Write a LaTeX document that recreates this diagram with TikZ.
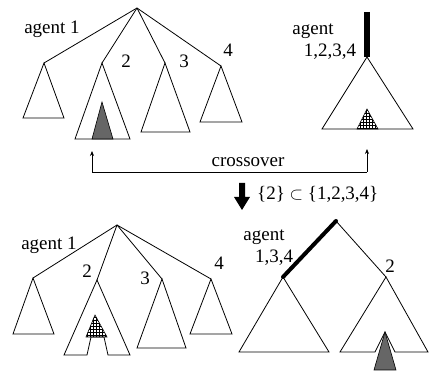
\documentclass[tikz,border=0pt]{standalone}
\usepackage{amsmath,amssymb}
\usepackage{xcolor}
\usepackage{fontspec}
\setmainfont{Liberation Serif}
\usepackage{tikz}
\usetikzlibrary{patterns,arrows.meta}

\tikzset{
  branch/.style={black,line width=.8pt},
  subtree/.style={black,line width=.8pt,line join=miter},
  grayfill/.style={draw=black,line width=.6pt,fill=black!60},
  hatchfill/.style={draw=black,line width=.6pt,pattern=grid},
  lbl/.style={anchor=base,inner sep=0pt,font=\fontsize{19}{21}\selectfont},
  link/.style={black,line width=.7pt,-{Stealth[length=5pt,width=4pt]}}
}

\begin{document}
\begin{tikzpicture}[x=1pt,y=-1pt]
    \useasboundingbox (0,0) rectangle (429,371);

    % parent 1 (top left)
    \coordinate (r1) at (137,8);
    \coordinate (a1) at (44,63);
    \coordinate (a2) at (102,63);
    \coordinate (a3) at (165,63);
    \coordinate (a4) at (221,66);
    \foreach \k in {a1,a2,a3,a4} \draw[branch] (r1) -- (\k);
    \draw[subtree] (a1) -- (23,118) -- (64,118) -- cycle;
    \draw[subtree] (a2) -- (75,139) -- (130,139) -- cycle;
    \draw[subtree] (a3) -- (141,132) -- (190,132) -- cycle;
    \draw[subtree] (a4) -- (200,122) -- (242,122) -- cycle;
    \draw[grayfill] (102,102) -- (92,139) -- (113,139) -- cycle;
    \node[lbl] at (52,34) {agent 1};
    \node[lbl] at (126,68) {2};
    \node[lbl] at (184,68) {3};
    \node[lbl] at (228,57) {4};

    % parent 2 (top right)
    \coordinate (r2) at (367,12);
    \coordinate (b0) at (367,57);
    \draw[black,line width=6pt] (r2) -- (b0);
    \draw[subtree] (b0) -- (322,129) -- (413,129) -- cycle;
    \draw[hatchfill] (367,109) -- (357,129) -- (378,129) -- cycle;
    \node[lbl] at (313,35) {agent};
    \node[lbl] at (330,57) {1,2,3,4};

    % crossover
    \coordinate (x1) at (92,151);
    \coordinate (x2) at (367,149);
    \coordinate (xl) at (92,172);
    \coordinate (xr) at (367,172);
    \draw[link] (xl) -- (x1);
    \draw[link] (xr) -- (x2);
    \draw[black,line width=.7pt] (xl) -- (xr);
    \node[lbl] at (248,167) {crossover};

    % big arrow
    \fill[black] (239,183) -- (245,183) -- (245,197) -- (250,197) -- (242,210)
      -- (234,197) -- (239,197) -- cycle;
    \node[lbl,anchor=base west] at (257,200) {\{2\} $\subset$ \{1,2,3,4\}};

    % offspring 1 (bottom left)
    \coordinate (s1) at (117,225);
    \coordinate (c1) at (33,278);
    \coordinate (c2) at (97,280);
    \coordinate (c3) at (162,279);
    \coordinate (c4) at (211,279);
    \foreach \k in {c1,c2,c3,c4} \draw[branch] (s1) -- (\k);
    \draw[subtree] (c1) -- (13,334) -- (54,334) -- cycle;
    \draw[subtree] (c2) -- (64,355) -- (87,355) -- (91,337) -- (104,337)
      -- (108,355) -- (130,355) -- cycle;
    \draw[subtree] (c3) -- (137,348) -- (186,348) -- cycle;
    \draw[subtree] (c4) -- (190,334) -- (232,334) -- cycle;
    \draw[hatchfill] (95,315) -- (86,337) -- (107,337) -- cycle;
    \node[lbl] at (49,250) {agent 1};
    \node[lbl] at (87,278) {2};
    \node[lbl] at (145,285) {3};
    \node[lbl] at (219,270) {4};

    % offspring 2 (bottom right)
    \coordinate (s2) at (336,221);
    \coordinate (d1) at (283,277);
    \coordinate (d2) at (386,277);
    \draw[black,line width=4pt,line cap=round] (s2) -- (d1);
    \draw[branch] (s2) -- (d2);
    \draw[subtree] (d1) -- (239,352) -- (329,352) -- cycle;
    \draw[subtree] (d2) -- (340,352) -- (375,352) -- (385,332) -- (395,352)
      -- (428,352) -- cycle;
    \draw[grayfill] (385,332) -- (374,370) -- (396,370) -- cycle;
    \node[lbl] at (264,241) {agent};
    \node[lbl] at (274,263) {1,3,4};
    \node[lbl] at (390,273) {2};
  \end{tikzpicture}
\end{document}
